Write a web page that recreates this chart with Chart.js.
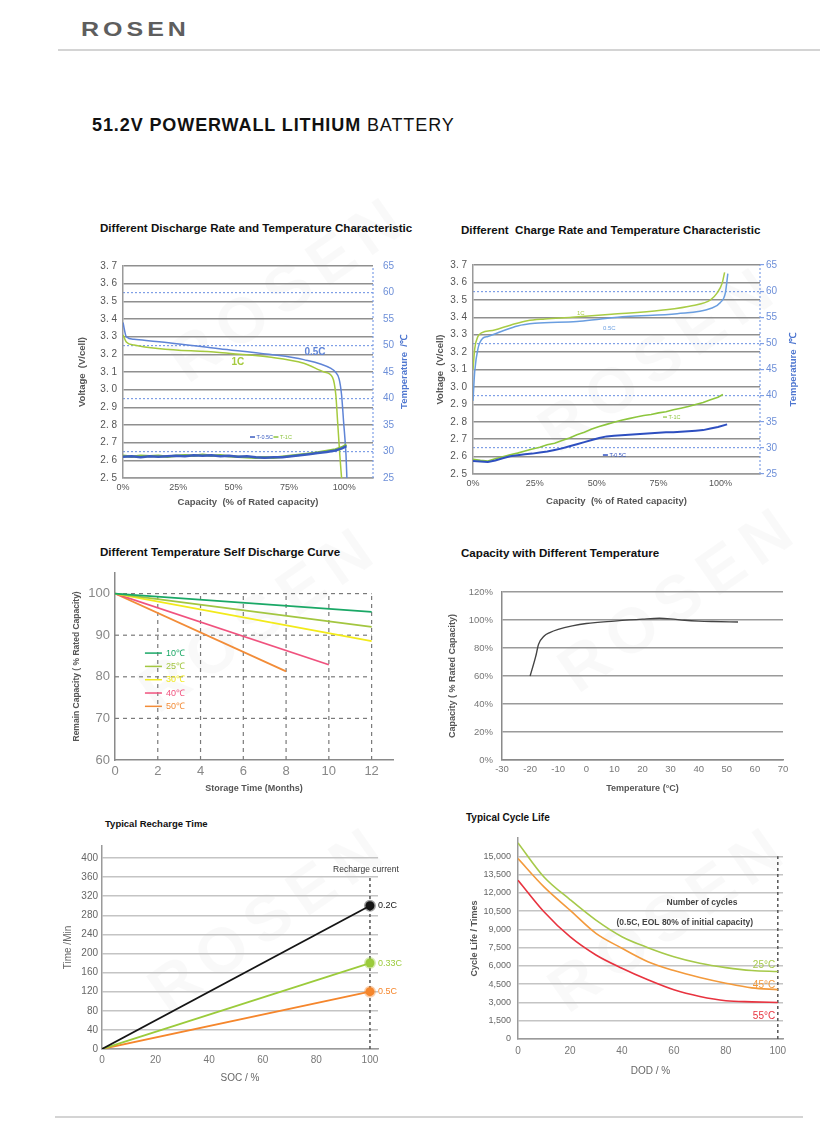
<!DOCTYPE html>
<html>
<head>
<meta charset="utf-8">
<script src="https://cdn.jsdelivr.net/npm/chart.js@4.4.1/dist/chart.umd.min.js"></script>
<style>
  body { margin: 0; background: #fff; font-family: "Liberation Sans", Arial, sans-serif; }
  #page { position: relative; width: 840px; height: 1140px; overflow: hidden; background: #fff; }
  canvas { position: absolute; }
  .ttl { position: absolute; font-weight: bold; color: #111; font-size: 11.6px; white-space: pre; line-height: 14px; }
  .rule { position: absolute; height: 2px; background: #d4d4d4; }
  .wm { position: absolute; font-size: 64px; font-weight: bold; letter-spacing: 10px; color: rgba(0,0,0,0.025); transform: rotate(-35deg); white-space: nowrap; }
  #logo { position: absolute; left: 81px; top: 15px; font-size: 25px; font-weight: bold; letter-spacing: 4px; color: #5e5e5e; line-height: 28px; transform: scaleY(0.82); transform-origin: left center; }
  #head { position: absolute; left: 92px; top: 114px; font-size: 18px; letter-spacing: 0.9px; color: #111; line-height: 22px; white-space: nowrap; }
</style>
</head>
<body>
<div id="page">
  <div class="wm" style="left:150px;top:250px">ROSEN</div>
  <div class="wm" style="left:520px;top:320px">ROSEN</div>
  <div class="wm" style="left:120px;top:580px">ROSEN</div>
  <div class="wm" style="left:540px;top:560px">ROSEN</div>
  <div class="wm" style="left:130px;top:880px">ROSEN</div>
  <div class="wm" style="left:530px;top:880px">ROSEN</div>

  <div id="logo">ROSEN</div>
  <div class="rule" style="left:58px;top:49px;width:762px"></div>
  <div class="rule" style="left:55px;top:1116px;width:748px"></div>
  <div id="head"><b>51.2V POWERWALL LITHIUM</b> BATTERY</div>

  <div class="ttl" style="left:100px;top:221px">Different Discharge Rate and Temperature Characteristic</div>
  <div class="ttl" style="left:461px;top:223px">Different  Charge Rate and Temperature Characteristic</div>
  <div class="ttl" style="left:100px;top:545px">Different Temperature Self Discharge Curve</div>
  <div class="ttl" style="left:461px;top:546px">Capacity with Different Temperature</div>
  <div class="ttl" style="left:105px;top:817px;font-size:9.5px">Typical Recharge Time</div>
  <div class="ttl" style="left:466px;top:811px;font-size:10px">Typical Cycle Life</div>

  <canvas id="c1" width="345" height="262" style="left:70px;top:250px"></canvas>
  <canvas id="c2" width="385" height="262" style="left:430px;top:250px"></canvas>
  <canvas id="c3" width="340" height="240" style="left:65px;top:560px"></canvas>
  <canvas id="c4" width="360" height="225" style="left:440px;top:575px"></canvas>
  <canvas id="c5" width="350" height="260" style="left:55px;top:830px"></canvas>
  <canvas id="c6" width="340" height="265" style="left:460px;top:825px"></canvas>
</div>

<script>
// ---- discharge (chart 1) ----
const disX05 = [0, 1.5, 5, 20.6, 43.5, 66, 81.7, 94, 96, 97.7, 98.8, 99.7, 100.8, 101.2];
const disV05 = [3.38, 3.30, 3.285, 3.266, 3.232, 3.20, 3.17, 3.12, 3.10, 3.06, 2.97, 2.82, 2.63, 2.5];
const disX1 = [0, 1.5, 5, 43.5, 66, 81.7, 91, 94.7, 96.2, 97, 98, 98.8];
const disV1 = [3.31, 3.27, 3.253, 3.21, 3.185, 3.15, 3.10, 3.07, 2.97, 2.82, 2.63, 2.5];
const disTempX = [0, 4, 8, 12, 16, 20, 24, 28, 32, 36, 40, 44, 48, 52, 56, 60, 64, 68, 72, 76, 80, 84, 88, 92, 96, 99, 101];
const disT05 = [29.0, 29.1, 28.9, 29.1, 29.0, 29.1, 29.2, 29.1, 29.3, 29.2, 29.3, 29.1, 29.2, 29.0, 29.1, 28.9, 28.8, 28.9, 28.9, 29.1, 29.3, 29.5, 29.7, 29.9, 30.2, 30.6, 31.0];
const disT1 = [29.2, 29.0, 29.2, 29.1, 29.2, 29.0, 29.2, 29.3, 29.2, 29.4, 29.2, 29.3, 29.1, 29.0, 28.9, 28.8, 28.9, 28.8, 29.0, 29.2, 29.4, 29.6, 29.8, 30.1, 30.4, 30.8, 31.3];

// ---- charge (chart 2) ----
const chgX1 = [0, 0.7, 2, 3.4, 8.7, 15.4, 22, 29, 40, 56, 76, 89, 96, 98.7, 100.7, 101.7];
const chgV1 = [3.10, 3.22, 3.29, 3.31, 3.327, 3.356, 3.38, 3.39, 3.40, 3.417, 3.44, 3.467, 3.50, 3.54, 3.595, 3.658];
const chgX05 = [0, 0.7, 2, 4, 6, 11.4, 18, 25, 42, 51.7, 62, 82.5, 96, 100, 102, 103];
const chgV05 = [2.92, 3.09, 3.22, 3.28, 3.29, 3.318, 3.35, 3.365, 3.375, 3.39, 3.404, 3.42, 3.45, 3.485, 3.54, 3.65];
const chgTempX1 = [0, 3, 6, 9, 12, 15, 18, 21, 24, 27, 30, 33, 36, 39, 42, 45, 48, 51, 54, 57, 60, 63, 66, 69, 72, 75, 78, 81, 84, 87, 90, 93, 96, 99, 101];
const chgT1 = [27.8, 27.6, 27.5, 27.9, 28.3, 28.7, 29.0, 29.4, 29.8, 30.1, 30.6, 30.9, 31.4, 31.9, 32.5, 33.0, 33.6, 34.1, 34.5, 34.9, 35.3, 35.6, 35.9, 36.2, 36.4, 36.7, 36.9, 37.3, 37.6, 37.9, 38.3, 38.7, 39.2, 39.7, 40.2];
const chgTempX05 = [0, 3, 6, 9, 12, 15, 18, 21, 24, 27, 30, 33, 36, 39, 42, 45, 48, 51, 54, 57, 60, 63, 66, 69, 72, 75, 78, 81, 84, 87, 90, 93, 96, 99, 102.7];
const chgT05 = [27.5, 27.4, 27.3, 27.6, 28.0, 28.4, 28.6, 28.8, 28.9, 29.1, 29.3, 29.6, 29.9, 30.3, 30.7, 31.1, 31.5, 31.9, 32.2, 32.3, 32.4, 32.5, 32.6, 32.7, 32.8, 32.9, 33.0, 33.0, 33.1, 33.2, 33.3, 33.4, 33.7, 34.0, 34.5];

const voltTicks = [2.5, 2.6, 2.7, 2.8, 2.9, 3.0, 3.1, 3.2, 3.3, 3.4, 3.5, 3.6, 3.7];
const tempTicks = [25, 30, 35, 40, 45, 50, 55, 60, 65];
const capTicks = [0, 25, 50, 75, 100];

// ---- self discharge (chart 3) ----
const sdLabels = ['10℃', '25℃', '30℃', '40℃', '50℃'];
const sdEndMonth = [12, 12, 12, 10, 8];
const sdStart = [100, 100, 100, 100, 100];
const sdEnd = [95.6, 92.0, 88.6, 82.9, 81.3];
const sdColors = ['#1aa866', '#a3c640', '#f2ea1a', '#f0527e', '#f28c38'];
const monthTicks = [0, 2, 4, 6, 8, 10, 12];
const remainTicks = [60, 70, 80, 90, 100];

// ---- capacity vs temperature (chart 4) ----
const capTemp = [-20, -18, -17, -15, -13, -10, -5, 0, 10, 20, 26, 30, 35, 40, 45, 54];
const capPct = [60, 74, 82.6, 88.6, 91, 93.3, 95.8, 97.5, 99.2, 100.6, 101.2, 100.8, 99.8, 99.2, 98.9, 98.6];

// ---- recharge time (chart 5) ----
const socPts = [0, 100];
const rcLabels = ['0.2C', '0.33C', '0.5C'];
const rcTimes = [[0, 300], [0, 180], [0, 120]];
const rcColors = ['#151515', '#9bcb3b', '#f5862c'];
const minTicks = [0, 40, 80, 120, 160, 200, 240, 280, 320, 360, 400];
const socTicks = [0, 20, 40, 60, 80, 100];

// ---- cycle life (chart 6) ----
const dod = [0, 10, 20, 30, 40, 50, 60, 70, 80, 90, 100];
const cycLabels = ['25°C', '45°C', '55°C'];
const cyc25 = [16100, 13300, 11450, 9760, 8400, 7500, 6760, 6220, 5860, 5620, 5540];
const cyc45 = [14810, 12490, 10580, 8670, 7450, 6350, 5620, 5050, 4580, 4200, 4050];
const cyc55 = [13040, 10450, 8400, 6900, 5810, 4860, 4040, 3490, 3140, 3050, 3000];
const cycColors = ['#a6c94a', '#f39a3c', '#e8333f'];
const cycTicks = [0, 1500, 3000, 4500, 6000, 7500, 9000, 10500, 12000, 13500, 15000];

Chart.defaults.font.family = '"Liberation Sans", Arial, sans-serif';
Chart.defaults.animation = false;
Chart.defaults.responsive = false;
Chart.defaults.plugins.legend.display = false;
Chart.defaults.plugins.tooltip.enabled = false;
Chart.defaults.elements.point.radius = 0;

const pts = (xs, ys) => xs.map((x, i) => ({ x: x, y: ys[i] }));
const setTicks = vals => s => { s.ticks = vals.map(v => ({ value: v })); };
const fixW = w => s => { s.width = w; };
const fixH = h => s => { s.height = h; };
const bold = size => ({ size: size, weight: 'bold' });
const noGrid = { display: false, drawTicks: false };

// draws extra lines (before data) and notes / rotated titles (after data)
const notesPlugin = {
  id: 'notes',
  beforeDatasetsDraw(chart, args, opts) {
    const ctx = chart.ctx;
    (opts.lines || []).forEach(l => {
      const xs = chart.scales[l.xAxis || 'x'], ys = chart.scales[l.yAxis || 'y'];
      ctx.save();
      ctx.strokeStyle = l.color;
      ctx.lineWidth = l.width || 1;
      ctx.setLineDash(l.dash || []);
      ctx.beginPath();
      ctx.moveTo(xs.getPixelForValue(l.x0), ys.getPixelForValue(l.y0));
      ctx.lineTo(xs.getPixelForValue(l.x1), ys.getPixelForValue(l.y1));
      ctx.stroke();
      ctx.restore();
    });
  },
  afterDatasetsDraw(chart, args, opts) {
    const ctx = chart.ctx;
    (opts.items || []).forEach(it => {
      const xs = chart.scales[it.xAxis || 'x'], ys = chart.scales[it.yAxis || 'y'];
      let px = xs.getPixelForValue(it.x) + (it.dx || 0);
      const py = ys.getPixelForValue(it.y) + (it.dy || 0);
      ctx.save();
      if (it.line) {
        ctx.strokeStyle = it.color;
        ctx.lineWidth = it.lw || 1.5;
        ctx.beginPath();
        ctx.moveTo(px, py);
        ctx.lineTo(px + it.line, py);
        ctx.stroke();
        px += it.line + 1.5;
      }
      if (it.text) {
        ctx.font = it.font;
        ctx.fillStyle = it.color;
        ctx.textAlign = it.align || 'left';
        ctx.textBaseline = 'middle';
        ctx.fillText(it.text, px, py);
      }
      ctx.restore();
    });
    if (opts.vtitle) {
      const t = opts.vtitle, a = chart.chartArea;
      ctx.save();
      ctx.translate(t.x, (a.top + a.bottom) / 2);
      ctx.rotate(-Math.PI / 2);
      ctx.font = t.font;
      ctx.fillStyle = t.color;
      ctx.textAlign = 'center';
      ctx.textBaseline = 'middle';
      ctx.fillText(t.text, 0, 0);
      ctx.restore();
    }
  }
};
Chart.register(notesPlugin);

const blueDots = [30, 40, 50, 60];
function voltChart(id, cfg) {
  return new Chart(document.getElementById(id), {
    type: 'line',
    data: { datasets: cfg.datasets },
    options: {
      layout: { padding: { top: cfg.top } },
      plugins: {
        notes: {
          lines: [{ x0: cfg.xmax, x1: cfg.xmax, y0: 2.5, y1: 3.7, color: '#7f9fe6', dash: [2, 2], width: 1.2 }],
          items: cfg.items,
          vtitle: { text: 'Temperature  /℃', x: cfg.rTitleX, color: '#4f77d0', font: 'bold 9.5px "Liberation Sans", Arial' }
        }
      },
      scales: {
        x: {
          type: 'linear', min: 0, max: cfg.xmax,
          afterBuildTicks: setTicks(capTicks), afterFit: fixH(cfg.xh),
          grid: noGrid,
          border: { color: '#9a9a9a', width: 1.5 },
          ticks: { callback: v => v + '%', font: { size: 9 }, color: '#555', padding: 4, maxRotation: 0 },
          title: { display: true, text: 'Capacity  (% of Rated capacity)', font: bold(9.5), color: '#555', padding: { top: 0, bottom: cfg.xtPad } }
        },
        y: {
          position: 'left', min: 2.5, max: 3.7,
          afterBuildTicks: setTicks(voltTicks), afterFit: fixW(cfg.lw),
          grid: { color: '#8f8f8f', lineWidth: 1.4, drawTicks: false },
          border: { color: '#9a9a9a', width: 1.5 },
          ticks: { callback: v => v.toFixed(1).replace('.', '. '), padding: 6, font: { size: 10 }, color: '#555' },
          title: { display: true, text: 'Voltage  (V/cell)', font: bold(9.5), color: '#555', padding: { top: cfg.ytPad, bottom: 0 } }
        },
        y2: {
          position: 'right', min: 25, max: 65,
          afterBuildTicks: setTicks(tempTicks), afterFit: fixW(cfg.rw),
          grid: {
            color: c => blueDots.includes(c.tick && c.tick.value) ? '#7f9fe6' : 'transparent',
            lineWidth: 1.2, drawTicks: cfg.rTicks, tickLength: 4,
            tickColor: '#7f9fe6'
          },
          border: { display: false, dash: [2, 2] },
          ticks: { padding: cfg.rPad, color: '#6d8fd8', font: { size: 10 } }
        }
      }
    }
  });
}

// chart 1: discharge
voltChart('c1', {
  top: 16, xmax: 113, xh: 34, lw: 53, rw: 42, xtPad: 4, ytPad: 7, rTitleX: 334, rPad: 10, rTicks: false,
  datasets: [
    { label: 'T-0.5C', data: pts(disTempX, disT05), yAxisID: 'y2', borderColor: '#3a5cc0', borderWidth: 2.5 },
    { label: 'T-1C', data: pts(disTempX, disT1), yAxisID: 'y2', borderColor: '#8cc43c', borderWidth: 2.5 },
    { label: '0.5C', data: pts(disX05, disV05), yAxisID: 'y', borderColor: '#5f84d6', borderWidth: 1.5, cubicInterpolationMode: 'monotone' },
    { label: '1C', data: pts(disX1, disV1), yAxisID: 'y', borderColor: '#a5ca3e', borderWidth: 1.5, cubicInterpolationMode: 'monotone' }
  ],
  items: [
    { x: 82, y: 3.213, text: '0.5C', color: '#5f84d6', font: 'bold 10px "Liberation Sans", Arial' },
    { x: 49, y: 3.157, text: '1C', color: '#a5ca3e', font: 'bold 10px "Liberation Sans", Arial' },
    { x: 57.4, y: 2.732, line: 5, lw: 1.5, text: 'T-0.5C', color: '#3a5cc0', font: '5.5px "Liberation Sans", Arial' },
    { x: 68, y: 2.732, line: 5, lw: 1.5, text: 'T-1C', color: '#8cc43c', font: '5.5px "Liberation Sans", Arial' }
  ]
});

// chart 2: charge
voltChart('c2', {
  top: 15, xmax: 116, xh: 38, lw: 43, rw: 55, xtPad: 5, ytPad: 5, rTitleX: 363, rPad: 2, rTicks: true,
  datasets: [
    { label: 'T-0.5C', data: pts(chgTempX05, chgT05), yAxisID: 'y2', borderColor: '#2e4fc0', borderWidth: 2 },
    { label: 'T-1C', data: pts(chgTempX1, chgT1), yAxisID: 'y2', borderColor: '#8dc63e', borderWidth: 1.6 },
    { label: '0.5C', data: pts(chgX05, chgV05), yAxisID: 'y', borderColor: '#6a9ee0', borderWidth: 1.5, cubicInterpolationMode: 'monotone' },
    { label: '1C', data: pts(chgX1, chgV1), yAxisID: 'y', borderColor: '#a8cc45', borderWidth: 1.5, cubicInterpolationMode: 'monotone' }
  ],
  items: [
    { x: 42, y: 3.424, text: '1C', color: '#a8cc45', font: '6px "Liberation Sans", Arial' },
    { x: 52.5, y: 3.338, text: '0.5C', color: '#6a9ee0', font: '6px "Liberation Sans", Arial' },
    { x: 76.8, y: 2.827, line: 4, lw: 1.2, text: 'T-1C', color: '#8dc63e', font: '5.5px "Liberation Sans", Arial' },
    { x: 52.5, y: 2.609, line: 5, lw: 1.5, text: 'T-0.5C', color: '#2e4fc0', font: '5.5px "Liberation Sans", Arial' }
  ]
});

// chart 3: self discharge
const sdGrid = [];
monthTicks.slice(1).forEach(m => sdGrid.push({ x0: m, x1: m, y0: 60, y1: 100, color: '#7a7a7a', dash: [4, 4], width: 1.2 }));
remainTicks.slice(1).forEach(r => sdGrid.push({ x0: 0, x1: 12, y0: r, y1: r, color: '#7a7a7a', dash: [4, 4], width: 1.2 }));
const sdLegend = [];
sdLabels.forEach((lab, i) => sdLegend.push({ x: 1.4, y: 85.7 - i * 3.2, line: 17, lw: 1.5, text: ' ' + lab, color: sdColors[i], font: '9px "Liberation Sans", Arial' }));
new Chart(document.getElementById('c3'), {
  type: 'line',
  data: {
    datasets: sdLabels.map((lab, i) => ({
      label: lab, data: pts([0, sdEndMonth[i]], [sdStart[i], sdEnd[i]]),
      borderColor: sdColors[i], borderWidth: 1.8
    }))
  },
  options: {
    layout: { padding: { top: 11, right: 12 } },
    plugins: { notes: { lines: sdGrid, items: sdLegend } },
    scales: {
      x: {
        type: 'linear', min: 0, max: 13,
        afterBuildTicks: setTicks(monthTicks), afterFit: fixH(40),
        grid: noGrid,
        border: { color: '#8a8a8a', width: 1.5 },
        ticks: { font: { size: 13 }, color: '#888', padding: 4 },
        title: { display: true, text: 'Storage Time (Months)', font: bold(9), color: '#555', padding: { top: 0, bottom: 6 } }
      },
      y: {
        min: 60, max: 105,
        afterBuildTicks: setTicks(remainTicks), afterFit: fixW(50),
        grid: noGrid,
        border: { color: '#8a8a8a', width: 1.5 },
        ticks: { font: { size: 13 }, color: '#888', padding: 5 },
        title: { display: true, text: 'Remain Capacity ( % Rated Capacity)', font: bold(8.5), color: '#555', padding: { top: 7, bottom: 0 } }
      }
    }
  }
});

// chart 4: capacity vs temperature
new Chart(document.getElementById('c4'), {
  type: 'line',
  data: { datasets: [{ label: 'Capacity', data: pts(capTemp, capPct), borderColor: '#444', borderWidth: 1.4, cubicInterpolationMode: 'monotone' }] },
  options: {
    layout: { padding: { top: 17, right: 17 } },
    scales: {
      x: {
        type: 'linear', min: -30, max: 70,
        ticks: { stepSize: 10, font: { size: 9.5 }, color: '#777', padding: 4 },
        afterFit: fixH(40),
        grid: noGrid,
        border: { color: '#8a8a8a', width: 1.5 },
        title: { display: true, text: 'Temperature (°C)', font: bold(9), color: '#555', padding: { top: 0, bottom: 6 } }
      },
      y: {
        min: 0, max: 120,
        ticks: { stepSize: 20, callback: v => v + '%', font: { size: 9.5 }, color: '#777', padding: 9 },
        afterFit: fixW(62),
        grid: { color: '#9a9a9a', lineWidth: 1.4, drawTicks: false },
        border: { color: '#8a8a8a', width: 1.5 },
        title: { display: true, text: 'Capacity ( % Rated Capacity)', font: bold(9), color: '#555', padding: { top: 7, bottom: 0 } }
      }
    }
  }
});

// chart 5: recharge time
new Chart(document.getElementById('c5'), {
  type: 'line',
  data: {
    datasets: rcLabels.map((lab, i) => ({
      label: lab, data: pts(socPts, rcTimes[i]),
      borderColor: rcColors[i], borderWidth: 1.8,
      pointRadius: [0, 4.5], pointBackgroundColor: rcColors[i],
      pointBorderColor: rcColors[i] + '66', pointBorderWidth: 3
    }))
  },
  options: {
    layout: { padding: { top: 16, right: 27 } },
    plugins: {
      notes: {
        lines: [{ x0: 100, x1: 100, y0: 0, y1: 358, color: '#555', dash: [3, 3], width: 1.5 }],
        items: rcLabels.map((lab, i) => ({ x: 100, y: rcTimes[i][1], dx: 8, text: lab, color: rcColors[i], font: '9px "Liberation Sans", Arial' }))
          .concat([{ x: 98.5, y: 375, text: 'Recharge current', align: 'center', color: '#333', font: '8.5px "Liberation Sans", Arial' }])
      }
    },
    scales: {
      x: {
        type: 'linear', min: 0, max: 103,
        afterBuildTicks: setTicks(socTicks), afterFit: fixH(41),
        grid: noGrid,
        border: { color: '#9a9a9a', width: 1.5 },
        ticks: { font: { size: 10 }, color: '#777', padding: 5 },
        title: { display: true, text: 'SOC / %', font: { size: 10 }, color: '#666', padding: { top: 0, bottom: 6 } }
      },
      y: {
        min: 0, max: 425,
        afterBuildTicks: setTicks(minTicks), afterFit: fixW(47),
        grid: { color: '#c4c4c4', lineWidth: 1.5, drawTicks: false },
        border: { color: '#9a9a9a', width: 1.5 },
        ticks: { font: { size: 10 }, color: '#666', padding: 4 },
        title: { display: true, text: 'Time /Min', font: { size: 10 }, color: '#666', padding: { top: 7, bottom: 0 } }
      }
    }
  }
});

// chart 6: cycle life
const cycSeries = [cyc25, cyc45, cyc55];
const cycLabelY = [6066, 4426, 1885];
new Chart(document.getElementById('c6'), {
  type: 'line',
  data: {
    datasets: cycLabels.map((lab, i) => ({
      label: lab, data: pts(dod, cycSeries[i]),
      borderColor: cycColors[i], borderWidth: 1.6, cubicInterpolationMode: 'monotone'
    }))
  },
  options: {
    layout: { padding: { top: 13, right: 17 } },
    plugins: {
      notes: {
        lines: [{ x0: 100, x1: 100, y0: 0, y1: 15000, color: '#555', dash: [3, 3], width: 1.5 }],
        items: cycLabels.map((lab, i) => ({ x: 99, y: cycLabelY[i], text: lab, align: 'right', color: cycColors[i], font: '10px "Liberation Sans", Arial' }))
          .concat([
            { x: 70.8, y: 11230, text: 'Number of cycles', align: 'center', color: '#444', font: 'bold 8.5px "Liberation Sans", Arial' },
            { x: 64.2, y: 9590, text: '(0.5C, EOL 80% of initial capacity)', align: 'center', color: '#444', font: 'bold 8.5px "Liberation Sans", Arial' }
          ])
      }
    },
    scales: {
      x: {
        type: 'linear', min: 0, max: 102,
        afterBuildTicks: setTicks(socTicks), afterFit: fixH(51),
        grid: noGrid,
        border: { color: '#9a9a9a', width: 1.5 },
        ticks: { font: { size: 10 }, color: '#777', padding: 6 },
        title: { display: true, text: 'DOD / %', font: { size: 10 }, color: '#666', padding: { top: 0, bottom: 13 } }
      },
      y: {
        min: 0, max: 16500,
        afterBuildTicks: setTicks(cycTicks), afterFit: fixW(58),
        grid: { color: '#c4c4c4', lineWidth: 1.5, drawTicks: false },
        border: { color: '#9a9a9a', width: 1.5 },
        ticks: { callback: v => v.toLocaleString('en-US'), font: { size: 9 }, color: '#666', padding: 7 },
        title: { display: true, text: 'Cycle Life / Times', font: bold(9), color: '#555', padding: { top: 9, bottom: 0 } }
      }
    }
  }
});
</script>
</body>
</html>
